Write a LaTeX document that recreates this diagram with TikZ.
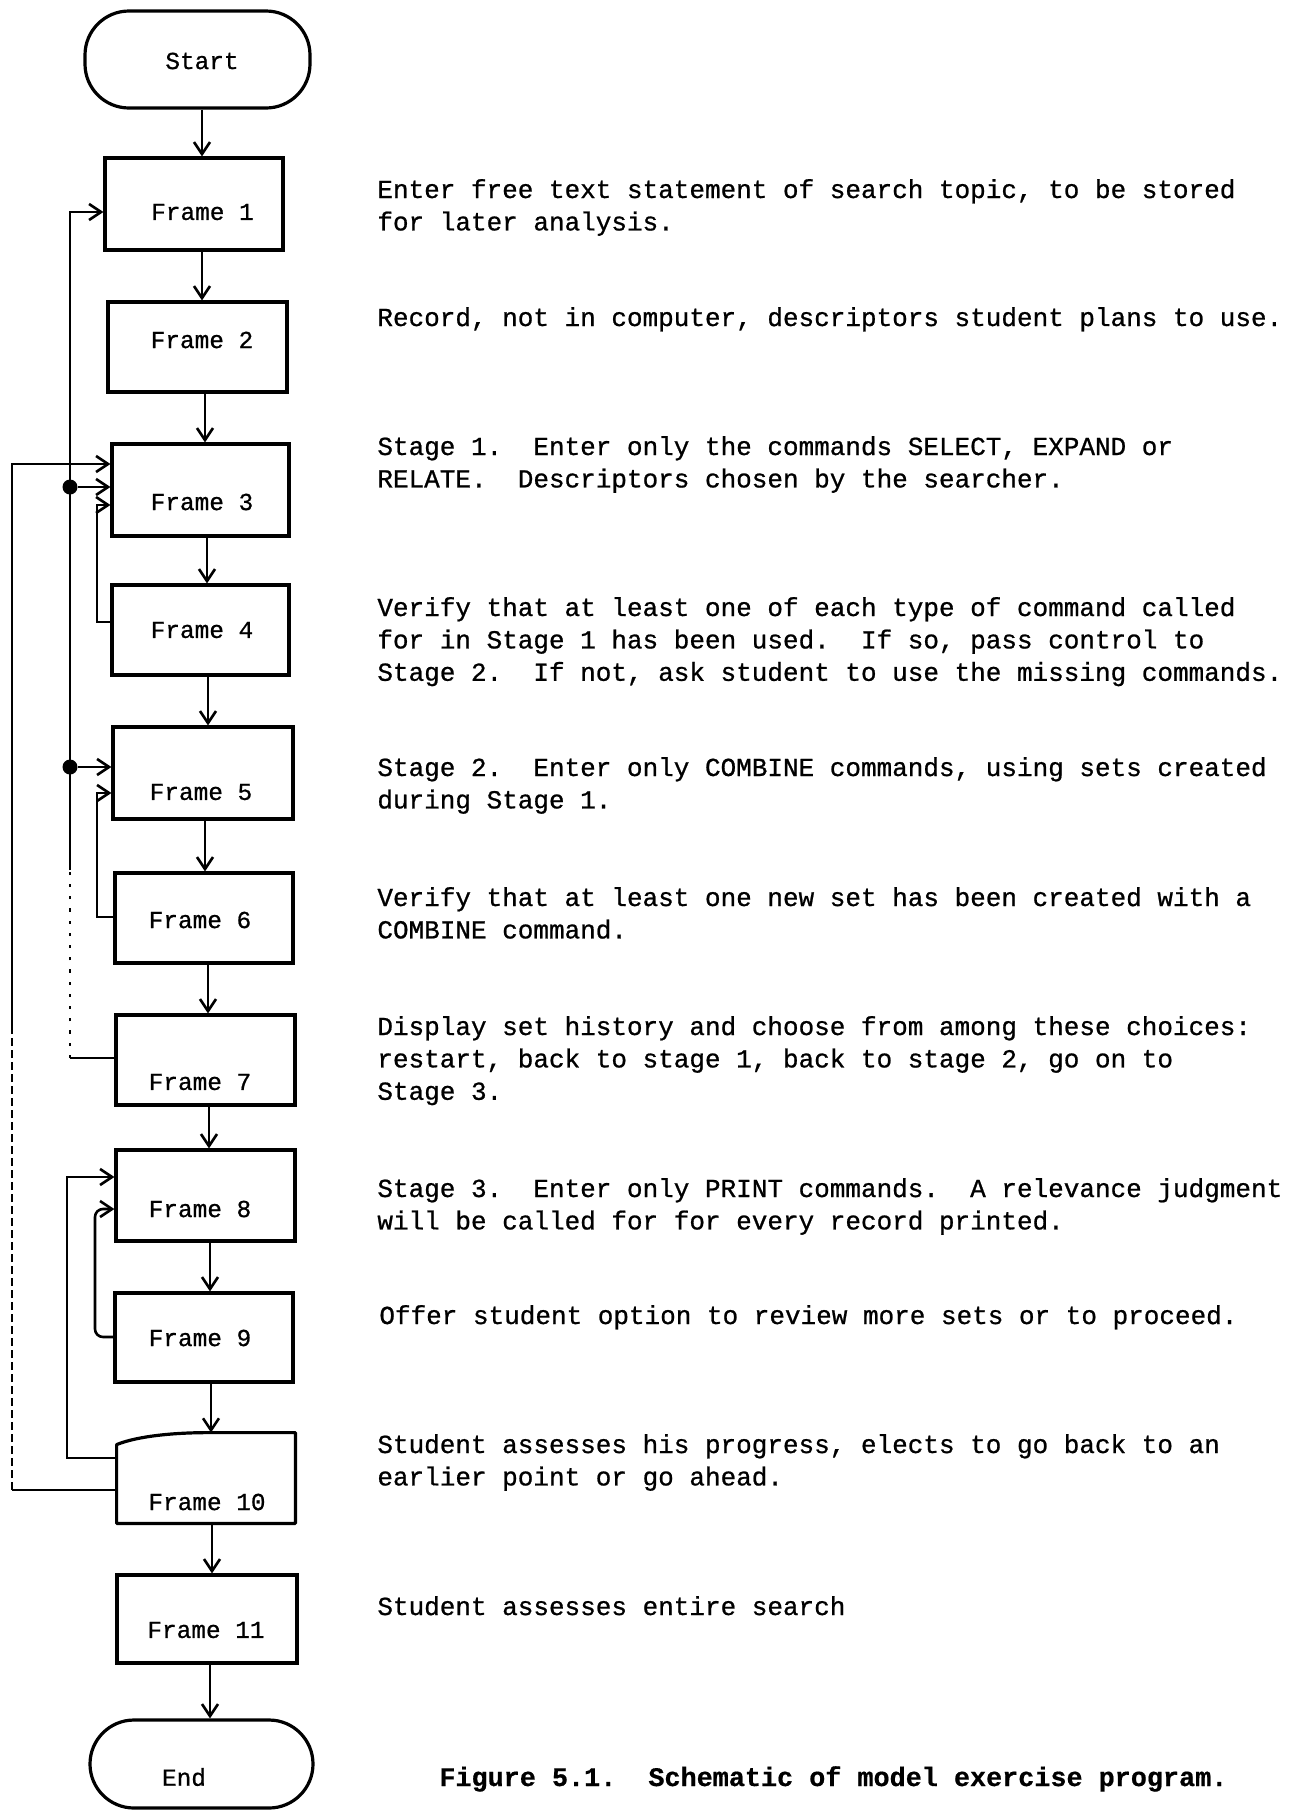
\documentclass[tikz,border=0pt]{standalone}
\usepackage{fontspec}
\setmonofont{Liberation Mono}[FakeBold=0.8]
\newfontfamily\captionfont{Liberation Mono Bold}[FakeBold=0.6]
\usetikzlibrary{arrows.meta,calc}
\begin{document}
\frenchspacing
\begin{tikzpicture}[x=0.5pt,y=-0.5pt,
  box/.style={draw, line width=1.6pt, inner sep=0pt},
  term/.style={box, rounded corners=22pt},
  lbl/.style={font=\ttfamily\fontsize{12.2}{14}\selectfont, inner sep=0pt},
  desc/.style={font=\ttfamily\fontsize{13}{16.2}\selectfont, anchor=base west, inner sep=0pt},
  link/.style={line width=1.3pt},
  flow/.style={link, -{Straight Barb[length=6pt,width=8pt]}},
  dotline/.style={link, dash pattern=on 1.6pt off 4.5pt},
  dashline/.style={link, dash pattern=on 4pt off 2pt},
  junction/.style={circle, fill, inner sep=0pt, minimum size=7.5pt}]

\fill[white] (0,0) rectangle (1302,1811);
\useasboundingbox (0,0) rectangle (1302,1811);

% ---- terminals and frames ----
\node[term, minimum width=112.5pt, minimum height=48.5pt] (start) at (197.5,59.5) {};
\node[box, minimum width=89pt,   minimum height=46pt]   (f1)  at (194,204) {};
\node[box, minimum width=89.5pt, minimum height=45pt]   (f2)  at (197.5,347) {};
\node[box, minimum width=88.5pt, minimum height=46pt]   (f3)  at (200.5,490) {};
\node[box, minimum width=88.5pt, minimum height=45pt]   (f4)  at (200.5,630) {};
\node[box, minimum width=90pt,   minimum height=46pt]   (f5)  at (203,773) {};
\node[box, minimum width=89pt,   minimum height=45pt]   (f6)  at (204,918) {};
\node[box, minimum width=89.5pt, minimum height=45pt]   (f7)  at (205.5,1060) {};
\node[box, minimum width=89.5pt, minimum height=45.5pt] (f8)  at (205.5,1195.5) {};
\node[box, minimum width=89pt,   minimum height=44.5pt] (f9)  at (204,1337.5) {};
\node[minimum width=89pt, minimum height=45pt, inner sep=0pt] (f10) at (206,1478) {};
\node[box, minimum width=90pt,   minimum height=44pt]   (f11) at (207,1619) {};
\node[term, minimum width=111.5pt, minimum height=44pt] (end) at (201.5,1764) {};

% Frame 10 has a curved upper-left corner
\draw[line width=1.6pt, line join=round]
  (f10.south west) -- ($(f10.north west)+(0,12)$)
  .. controls ($(f10.north west)+(22,3)$) and ($(f10.north west)+(60,0)$) .. ($(f10.north west)+(92,0)$)
  -- (f10.north east) -- (f10.south east) -- cycle;

% ---- labels inside the shapes ----
\node[lbl] (tstart) at (202,61)   {Start};
\node[lbl] (t1)  at (202.5,212)   {Frame 1};
\node[lbl] (t2)  at (202,340)     {Frame 2};
\node[lbl] (t3)  at (202,502)     {Frame 3};
\node[lbl] (t4)  at (202,630)     {Frame 4};
\node[lbl] (t5)  at (201,792)     {Frame 5};
\node[lbl] (t6)  at (200,920)     {Frame 6};
\node[lbl] (t7)  at (200,1082)    {Frame 7};
\node[lbl] (t8)  at (200,1209)    {Frame 8};
\node[lbl] (t9)  at (200,1338)    {Frame 9};
\node[lbl] (t10) at (207,1502)    {Frame 10};
\node[lbl] (t11) at (206,1630)    {Frame 11};
\node[lbl] (tend) at (184,1777)   {End};

% ---- main downward flow ----
\foreach \a/\b/\dx in {start/f1/4.5, f1/f2/8, f2/f3/7.5, f3/f4/6.5, f4/f5/7.5,
                       f5/f6/2, f6/f7/4, f7/f8/3.5, f8/f9/4.5, f9/f10/7,
                       f10/f11/6, f11/end/3}
  \draw[flow] ($(\a.south)+(\dx,0)$) -- ($(\a.south |- \b.north)+(\dx,0)$);

% ---- return paths on the left ----
% outer path: Frame 10 back to Frame 3
\coordinate (oa) at (12,1490);
\coordinate (ob) at (12,1027);
\coordinate (oc) at (12,464);
\draw[link] (f10.west |- oa) -- (oa);
\draw[dashline] (oa) -- (ob);
\draw[flow] (ob) -- (oc) -- (oc -| f3.west);

% middle path: Frame 7 back to Frames 5, 3 and 1
\coordinate (ma) at (70,1058);
\coordinate (mb) at (70,870);
\coordinate (mc) at (70,212);
\draw[link] (f7.west |- ma) -- (ma);
\draw[dotline] (ma) -- (mb);
\draw[flow] (mb) -- (mc) -- (mc -| f1.west);
\node[junction] (j3) at (70,487) {};
\node[junction] (j5) at (70,767) {};
\draw[flow] (j3) -- (j3 -| f3.west);
\draw[flow] (j5) -- (j5 -| f5.west);

% Frame 4 back to Frame 3
\coordinate (pa) at (97,622);
\coordinate (pb) at (97,505);
\draw[flow] (f4.west |- pa) -- (pa) -- (pb) -- (pb -| f3.west);

% Frame 6 back to Frame 5
\coordinate (qa) at (97,917);
\coordinate (qb) at (97,793);
\draw[flow] (f6.west |- qa) -- (qa) -- (qb) -- (qb -| f5.west);

% Frame 9 back to Frame 8
\coordinate (ra) at (95,1337);
\coordinate (rb) at (95,1209);
\draw[flow, rounded corners=4pt] (f9.west |- ra) -- (ra) -- (rb) -- (rb -| f8.west);

% Frame 10 back to Frame 8
\coordinate (sa) at (67,1458);
\coordinate (sb) at (67,1177);
\draw[flow] (f10.west |- sa) -- (sa) -- (sb) -- (sb -| f8.west);

% ---- descriptions ----
\node[desc] (d1) at (377,198) {\begin{tabular}[t]{@{}l@{}}Enter free text statement of search topic, to be stored\\for later analysis.\end{tabular}};
\node[desc] (d2) at (377,326) {\begin{tabular}[t]{@{}l@{}}Record, not in computer, descriptors student plans to use.\end{tabular}};
\node[desc] (d3) at (377,455) {\begin{tabular}[t]{@{}l@{}}Stage 1.\ \ Enter only the commands SELECT, EXPAND or\\RELATE.\ \ Descriptors chosen by the searcher.\end{tabular}};
\node[desc] (d4) at (377,616) {\begin{tabular}[t]{@{}l@{}}Verify that at least one of each type of command called\\for in Stage 1 has been used.\ \ If so, pass control to\\Stage 2.\ \ If not, ask student to use the missing commands.\end{tabular}};
\node[desc] (d5) at (377,776) {\begin{tabular}[t]{@{}l@{}}Stage 2.\ \ Enter only COMBINE commands, using sets created\\during Stage 1.\end{tabular}};
\node[desc] (d6) at (377,906) {\begin{tabular}[t]{@{}l@{}}Verify that at least one new set has been created with a\\COMBINE command.\end{tabular}};
\node[desc] (d7) at (377,1035) {\begin{tabular}[t]{@{}l@{}}Display set history and choose from among these choices:\\restart, back to stage 1, back to stage 2, go on to\\Stage 3.\end{tabular}};
\node[desc] (d8) at (377,1197) {\begin{tabular}[t]{@{}l@{}}Stage 3.\ \ Enter only PRINT commands.\ \ A relevance judgment\\will be called for for every record printed.\end{tabular}};
\node[desc] (d9) at (379,1324) {\begin{tabular}[t]{@{}l@{}}Offer student option to review more sets or to proceed.\end{tabular}};
\node[desc] (d10) at (377,1453) {\begin{tabular}[t]{@{}l@{}}Student assesses his progress, elects to go back to an\\earlier point or go ahead.\end{tabular}};
\node[desc] (d11) at (377,1615) {\begin{tabular}[t]{@{}l@{}}Student assesses entire search\end{tabular}};

% ---- caption ----
\node[desc, font=\captionfont\fontsize{13.4}{16}\selectfont] (cap) at (439,1786)
  {Figure 5.1.\ \ Schematic of model exercise program.};
\end{tikzpicture}
\end{document}
